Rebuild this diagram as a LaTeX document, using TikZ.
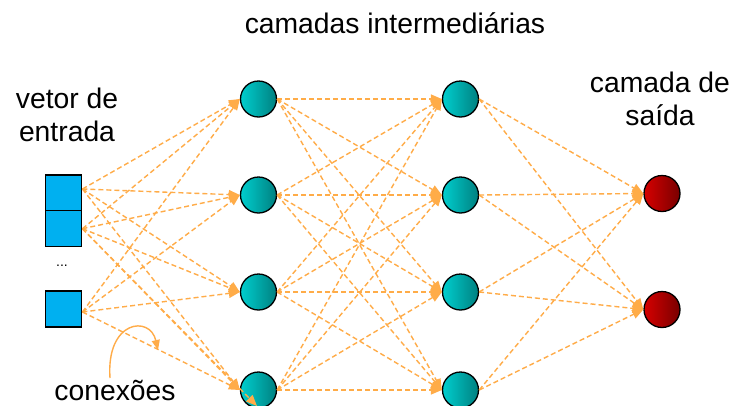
\documentclass[tikz,border=0pt]{standalone}
\usepackage{fontspec}
\setmainfont{Liberation Sans}
\usetikzlibrary{arrows.meta}
\definecolor{linkc}{RGB}{255,172,72}
\definecolor{inblue}{RGB}{0,176,240}
\definecolor{tealL}{RGB}{0,206,206}
\definecolor{tealR}{RGB}{0,128,128}
\definecolor{redL}{RGB}{214,0,0}
\definecolor{redR}{RGB}{120,0,0}
\begin{document}
\begin{tikzpicture}[x=1pt,y=-1pt,
  labeltext/.style={font=\fontsize{28.3}{33}\selectfont, inner sep=0pt, align=center},
  inunit/.style={draw=black, line width=1.5pt, fill=inblue, minimum size=36pt, inner sep=0pt},
  hidunit/.style={circle, draw=black, line width=1.3pt, left color=tealL, right color=tealR, minimum size=36pt, inner sep=0pt},
  outunit/.style={circle, draw=black, line width=1.3pt, left color=redL, right color=redR, minimum size=36pt, inner sep=0pt},
  wire/.style={draw=linkc, line width=1.4pt, dash pattern=on 5pt off 3pt, -{Triangle[length=11pt,width=9pt]}},
  pointer/.style={draw=linkc, line width=1.4pt, -{Triangle[length=10pt,width=8pt]}},
]
\useasboundingbox[fill=white] (0,0) rectangle (734,405);

% labels
\node[labeltext, anchor=base] (title) at (395,33) {camadas intermediárias};
\node[labeltext] (inlab) at (67,114.5) {vetor de\\entrada};
\node[labeltext] (outlab) at (660,98.5) {camada de\\saída};
\node[labeltext, anchor=base] (conn) at (115,400) {conexões};

% input vector
\node[inunit] (i1) at (63.7,193) {};
\node[inunit] (i2) at (63.7,228.7) {};
\node[inunit] (i3) at (63.7,309) {};
\node[inner sep=0pt, font=\fontsize{14}{16}\selectfont] (dots) at (62,266) {...};

% hidden layers
\foreach \k/\y in {1/99,2/195,3/292,4/390}{
  \node[hidunit] (a\k) at (258.5,\y) {};
  \node[hidunit] (b\k) at (460.5,\y) {};
}
% output layer
\node[outunit] (o1) at (662,193.5) {};
\node[outunit] (o2) at (662,309.5) {};

% start points on the input cells
\coordinate (s1) at ([yshift=4pt]i1.east);
\coordinate (s2) at (i2.east);
\coordinate (s3) at ([yshift=-3pt]i3.east);

% connections
\foreach \s in {s1,s2,s3}{
  \foreach \k in {1,2,3,4}{
    \draw[wire] (\s) -- (a\k.west);
  }
}
\foreach \j in {1,2,3,4}{
  \foreach \k in {1,2,3,4}{
    \draw[wire] (a\j.east) -- (b\k.west);
  }
}
\foreach \j in {1,2,3,4}{
  \foreach \k in {1,2}{
    \draw[wire] (b\j.east) -- (o\k.west);
  }
}
\coordinate (lowend) at (257,406);
\draw[wire] (s2) -- (lowend);

% pointer from the "conexões" label
\coordinate (pstart) at (110,378);
\coordinate (pend) at (158,350);
\draw[pointer] (pstart) .. controls (106,320) and (150,315) .. (pend);
\end{tikzpicture}
\end{document}
